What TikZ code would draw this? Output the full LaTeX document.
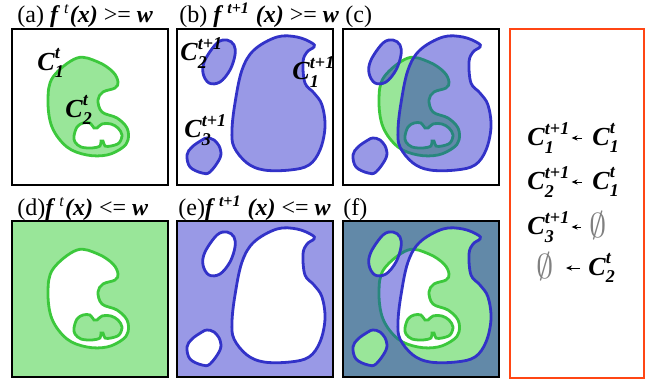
\documentclass[tikz,border=0pt]{standalone}
\usepackage{fontspec}
\setmainfont{Liberation Serif}
\usetikzlibrary{arrows.meta}

\definecolor{gline}{RGB}{60,200,60}
\definecolor{gfill}{RGB}{153,230,153}
\definecolor{bline}{RGB}{50,50,200}
\definecolor{bfill}{RGB}{153,153,230}
\definecolor{mixfill}{RGB}{98,137,168}
\definecolor{mixline}{RGB}{40,135,125}
\definecolor{redframe}{RGB}{255,70,20}

\newcommand{\bi}[1]{\textbf{\textit{#1}}}
\newcommand{\Cset}[2]{\bi{C}\rlap{\raisebox{-0.3em}{\fontsize{9}{9}\selectfont\bi{#1}}}\raisebox{0.45em}{\fontsize{9}{9}\selectfont\bi{#2}}}

\tikzset{
  kidney/.style={insert path={plot[smooth cycle, tension=0.6] coordinates {
    (65,29) (86,33) (101,43) (106,53) (103,59) (91,63) (86,71) (90,83) (105,89)
    (115,99) (116,111) (110,119) (95,126) (75,126) (55,118) (40,98) (36,71) (41,48)}}},
  kidneyhole/.style={insert path={plot[smooth cycle, tension=0.55] coordinates {
    (62,107) (65,98) (71,94) (78,94) (82,99) (85,99) (90,95) (99,95) (106,99)
    (110,106) (107,114) (99,117) (93,117) (91,112) (89,112) (88,117) (80,119)
    (69,118) (63,113)}}},
  blobs/.style={insert path={
    plot[smooth cycle, tension=0.6] coordinates {
      (77,21) (100,8) (120,8) (135,14) (137,18) (130,23) (126,33) (128,54) (137,64)
      (145,76) (148,98) (143,121) (132,136) (113,141) (87,141) (70,134) (57,118)
      (55,101) (58,74) (65,41)}
    plot[smooth cycle, tension=0.6] coordinates {
      (40,14) (50,11) (57,16) (58,26) (53,41) (43,53) (32,54) (26,44) (28,31)}
    plot[smooth cycle, tension=0.6] coordinates {
      (30,109) (37,111) (43,119) (43,129) (33,143) (25,144) (13,138) (10,126)
      (15,118) (25,111)}}},
  panel/.style={draw=black, line width=1pt},
  gedge/.style={draw=gline, line width=1.4pt},
  bedge/.style={draw=bline, line width=1.4pt},
  title/.style={anchor=base west, inner sep=0pt, font=\fontsize{12}{12}\selectfont},
  clabel/.style={anchor=west, inner sep=0pt, font=\fontsize{13}{13}\selectfont},
  nullset/.style={anchor=west, inner sep=0pt, text=gray, font=\fontsize{17}{17}\selectfont},
  larrow/.style={line width=0.5pt, -{Stealth[length=3pt, width=2.6pt]}}
}

\begin{document}
\begin{tikzpicture}[x=0.5pt, y=-0.5pt]
\useasboundingbox (0,0) rectangle (654,386);

% titles
\node[title] (tta) at (17,22) {(a) \bi{f}\,\textsuperscript{\textit{t}}\bi{(x)} >= \bi{w}};
\node[title] (ttb) at (179,22) {(b) \bi{f}\,\textsuperscript{\bi{t+1}} \bi{(x)} >= \bi{w}};
\node[title] (ttc) at (345,22) {(c)};
\node[title] (ttd) at (17,215) {(d)\bi{f}\,\textsuperscript{\textit{t}}\bi{(x)} <= \bi{w}};
\node[title] (tte) at (178,215) {(e)\bi{f}\,\textsuperscript{\bi{t+1}} \bi{(x)} <= \bi{w}};
\node[title] (ttf) at (343,215) {(f)};

% (a)
\begin{scope}[shift={(12,29)}]
  \fill[gfill, even odd rule, kidney, kidneyhole];
  \path[gedge, kidney, kidneyhole];
  \node[clabel] (ca1) at (25,34) {\Cset{1}{t}};
  \node[clabel] (ca2) at (53,81) {\Cset{2}{t}};
  \draw[panel] (0,0) rectangle (156,156);
\end{scope}

% (b)
\begin{scope}[shift={(177,29)}]
  \fill[bfill, blobs];
  \path[bedge, blobs];
  \node[clabel] (cb2) at (3,24) {\Cset{2}{t+1}};
  \node[clabel] (cb1) at (115,43) {\Cset{1}{t+1}};
  \node[clabel] (cb3) at (7,101) {\Cset{3}{t+1}};
  \draw[panel] (0,0) rectangle (156,156);
\end{scope}

% (c)
\begin{scope}[shift={(343,29)}]
  \fill[gfill, even odd rule, kidney, kidneyhole];
  \path[gedge, kidney, kidneyhole];
  \fill[bfill, blobs];
  \begin{scope}
    \clip[blobs];
    \fill[mixfill, even odd rule, kidney, kidneyhole];
    \path[gedge, draw=mixline, kidney, kidneyhole];
  \end{scope}
  \path[bedge, blobs];
  \draw[panel] (0,0) rectangle (156,156);
\end{scope}

% (d)
\begin{scope}[shift={(12,221)}]
  \fill[gfill] (0,0) rectangle (156,156);
  \fill[white, even odd rule, kidney, kidneyhole];
  \path[gedge, kidney, kidneyhole];
  \draw[panel] (0,0) rectangle (156,156);
\end{scope}

% (e)
\begin{scope}[shift={(177,221)}]
  \fill[bfill] (0,0) rectangle (156,156);
  \fill[white, blobs];
  \path[bedge, blobs];
  \draw[panel] (0,0) rectangle (156,156);
\end{scope}

% (f)
\begin{scope}[shift={(343,221)}]
  \fill[mixfill] (0,0) rectangle (156,156);
  \fill[bfill, even odd rule, kidney, kidneyhole];
  \path[gedge, draw=mixline, kidney, kidneyhole];
  \fill[gfill, blobs];
  \begin{scope}
    \clip[blobs];
    \fill[white, even odd rule, kidney, kidneyhole];
    \path[gedge, kidney, kidneyhole];
  \end{scope}
  \path[bedge, blobs];
  \draw[panel] (0,0) rectangle (156,156);
\end{scope}

% matching
\draw[draw=redframe, line width=1.3pt] (510,29) rectangle (644,378);
\node[clabel] (r1l) at (527,138) {\Cset{1}{t+1}};
\node[clabel] (r1r) at (592,138) {\Cset{1}{t}};
\node[clabel] (r2l) at (527,182) {\Cset{2}{t+1}};
\node[clabel] (r2r) at (592,182) {\Cset{1}{t}};
\node[clabel] (r3l) at (527,227) {\Cset{3}{t+1}};
\node[nullset] (r3r) at (589,225) {$\emptyset$};
\node[nullset] (r4l) at (536,266) {$\emptyset$};
\node[clabel] (r4r) at (588,268) {\Cset{2}{t}};
\draw[larrow, shorten <=5pt, shorten >=1pt] (r1r.west) -- (r1l.east);
\draw[larrow, shorten <=5pt, shorten >=1pt] (r2r.west) -- (r2l.east);
\draw[larrow, shorten <=4pt, shorten >=1pt] (r3r.west |- r3l.east) -- (r3l.east);
\draw[larrow, shorten <=4pt, shorten >=6pt] (r4r.west) -- (r4l.east |- r4r.west);
\end{tikzpicture}
\end{document}
